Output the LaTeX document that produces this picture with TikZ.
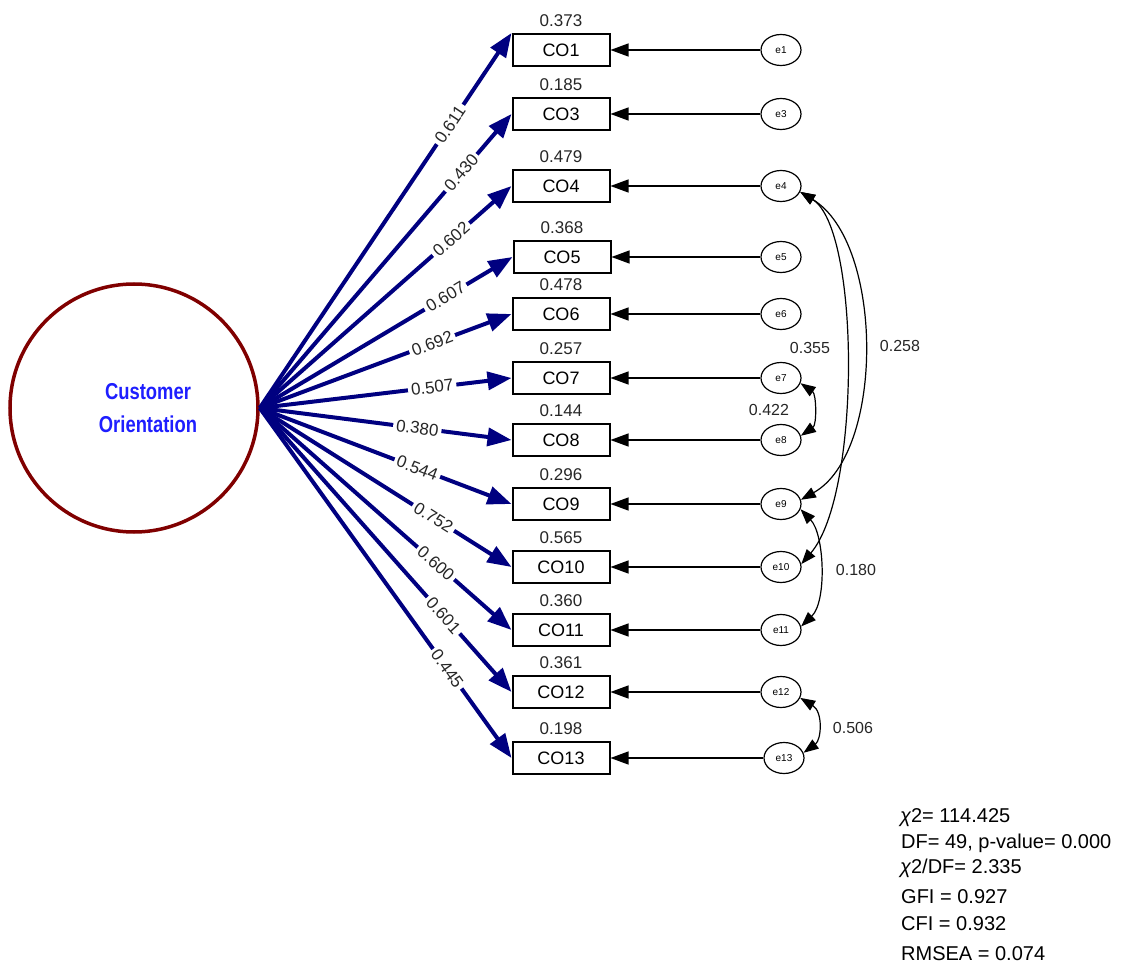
\documentclass[tikz,border=0pt]{standalone}
\usepackage{fontspec}
\usepackage{graphicx}
\setmainfont{Liberation Sans}
\usetikzlibrary{arrows.meta,shapes.geometric}
\definecolor{navyc}{RGB}{0,0,128}
\definecolor{lvred}{RGB}{128,0,0}
\definecolor{lvblue}{RGB}{30,30,255}
\begin{document}
\begin{tikzpicture}[x=1pt,y=-1pt,
  obs/.style={draw, line width=2pt, minimum width=97pt, minimum height=32pt, inner sep=0pt, font=\fontsize{18}{18}\selectfont},
  err/.style={draw, ellipse, line width=1.2pt, minimum width=40pt, minimum height=31pt, inner sep=0pt, font=\fontsize{10}{10}\selectfont},
  load/.style={draw=navyc, line width=4pt, -{Triangle[length=24pt,width=18pt,fill=navyc]}},
  lodlab/.style={sloped, fill=white, inner sep=3pt, font=\fontsize{17}{17}\selectfont, text=black!85},
  errarr/.style={line width=1.2pt, -{Triangle[length=18pt,width=13pt]}},
  cov/.style={line width=1.2pt, {Triangle[length=15pt,width=11pt]}-{Triangle[length=15pt,width=11pt]}},
  varlab/.style={font=\fontsize{17}{17}\selectfont, text=black!85, inner sep=1pt},
  covlab/.style={font=\fontsize{16}{16}\selectfont, text=black!85, inner sep=1pt},
  stat/.style={anchor=base west, font=\fontsize{20}{20}\selectfont, inner sep=0pt}
]
\useasboundingbox (0,0) rectangle (1122,976);

% latent factor
\node[draw=lvred, circle, line width=3.5pt, minimum size=248pt, inner sep=0pt] (F) at (134,408) {};
\node[font=\fontsize{23}{33}\selectfont\bfseries, text=lvblue, align=center] (FT) at (148,408)
  {\scalebox{0.8}[1]{Customer}\\\scalebox{0.8}[1]{Orientation}};

% observed indicators
\node[obs, label={[varlab, label distance=5pt]above:0.373}] (CO1) at (561,50) {CO1};
\node[obs, label={[varlab, label distance=5pt]above:0.185}] (CO3) at (561,114) {CO3};
\node[obs, label={[varlab, label distance=5pt]above:0.479}] (CO4) at (561,186) {CO4};
\node[obs, label={[varlab, label distance=5pt]above:0.368}] (CO5) at (562,257) {CO5};
\node[obs, label={[varlab, label distance=5pt]above:0.478}] (CO6) at (561,314) {CO6};
\node[obs, label={[varlab, label distance=5pt]above:0.257}] (CO7) at (561,378) {CO7};
\node[obs, label={[varlab, label distance=5pt]above:0.144}] (CO8) at (561,440) {CO8};
\node[obs, label={[varlab, label distance=5pt]above:0.296}] (CO9) at (561,504) {CO9};
\node[obs, label={[varlab, label distance=5pt]above:0.565}] (CO10) at (561,567) {CO10};
\node[obs, label={[varlab, label distance=5pt]above:0.360}] (CO11) at (561,630) {CO11};
\node[obs, label={[varlab, label distance=5pt]above:0.361}] (CO12) at (561,692) {CO12};
\node[obs, label={[varlab, label distance=5pt]above:0.198}] (CO13) at (561,758) {CO13};

% error terms
\node[err] (e1) at (781,50) {e1};
\node[err] (e3) at (781,114) {e3};
\node[err] (e4) at (781,186) {e4};
\node[err] (e5) at (781,257) {e5};
\node[err] (e6) at (781,314) {e6};
\node[err] (e7) at (781,378) {e7};
\node[err] (e8) at (781,440) {e8};
\node[err] (e9) at (781,504) {e9};
\node[err] (e10) at (781,567) {e10};
\node[err] (e11) at (781,630) {e11};
\node[err] (e12) at (781,692) {e12};
\node[err] (e13) at (784,758) {e13};

% loadings
\draw[load] (F.east) -- node[lodlab, pos=0.756]{0.611} (CO1.north west);
\draw[load] (F.east) -- node[lodlab, pos=0.80]{0.430} (CO3.west);
\draw[load] (F.east) -- node[lodlab, pos=0.76]{0.602} (CO4.west);
\draw[load] (F.east) -- node[lodlab, pos=0.735]{0.607} (CO5.west);
\draw[load] (F.east) -- node[lodlab, pos=0.685]{0.692} (CO6.west);
\draw[load] (F.east) -- node[lodlab, pos=0.685]{0.507} (CO7.west);
\draw[load] (F.east) -- node[lodlab, pos=0.626]{0.380} (CO8.west);
\draw[load] (F.east) -- node[lodlab, pos=0.626]{0.544} (CO9.west);
\draw[load] (F.east) -- node[lodlab, pos=0.69]{0.752} (CO10.west);
\draw[load] (F.east) -- node[lodlab, pos=0.70]{0.600} (CO11.west);
\draw[load] (F.east) -- node[lodlab, pos=0.73]{0.601} (CO12.west);
\draw[load] (F.east) -- node[lodlab, pos=0.745]{0.445} (CO13.west);

% error arrows
\foreach \i in {1,3,4,5,6,7,8,9,10,11,12}{
  \draw[errarr] (e\i) -- (CO\i);
}
\draw[errarr] (e13.west) -- (CO13.east);

% covariances
\draw[cov] (e7.-15) .. controls +(16,11) and +(16,-11) .. (e8.12);
\draw[cov] (e12.-17) .. controls +(23,14) and +(18,-13) .. (e13.15);
\draw[cov] (e9.-15) .. controls +(24,25) and +(26,-25) .. (e11.10);
\draw[cov] (e4.-17) .. controls +(84,51) and +(84,-47) .. (e9.12);
\draw[cov] (e4.-17) .. controls +(60,37) and +(60,-70) .. (e10.8);

\node[covlab] (c1) at (769,410) {0.422};
\node[covlab] (c2) at (810,348) {0.355};
\node[covlab] (c3) at (900,346) {0.258};
\node[covlab] (c4) at (856,570) {0.180};
\node[covlab] (c5) at (853,728) {0.506};

% fit statistics
\node[stat] (s1) at (900,822) {{\itshape χ}2= 114.425};
\node[stat] (s2) at (901,848) {DF= 49, p-value= 0.000};
\node[stat] (s3) at (900,873) {{\itshape χ}2/DF= 2.335};
\node[stat] (s4) at (901,903) {GFI = 0.927};
\node[stat] (s5) at (901,930) {CFI = 0.932};
\node[stat] (s6) at (901,960) {RMSEA = 0.074};
\end{tikzpicture}
\end{document}
